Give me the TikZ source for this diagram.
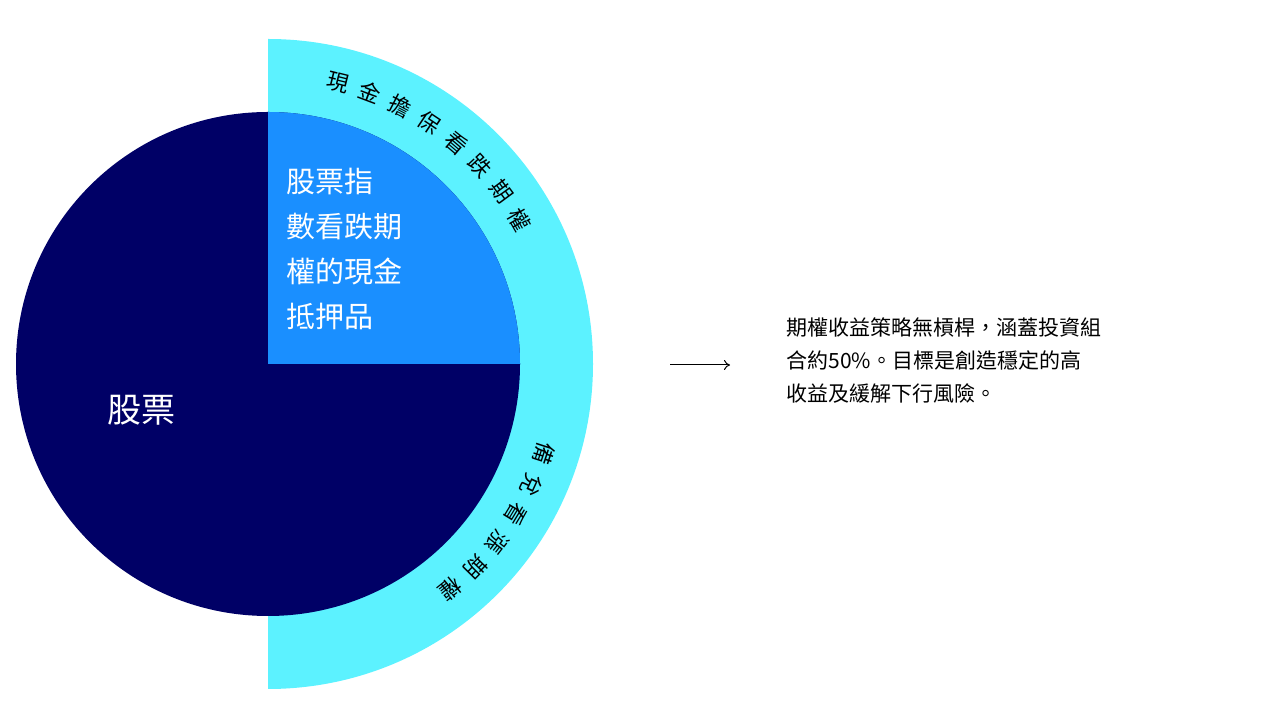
\documentclass[tikz,border=0pt]{standalone}
\usepackage{fontspec}
\setmainfont{Noto Sans CJK TC}
\usetikzlibrary{arrows.meta,calc}
\definecolor{navy}{HTML}{000066}
\definecolor{midblue}{HTML}{1A8FFF}
\definecolor{ringcyan}{HTML}{5CF2FF}
\begin{document}
\begin{tikzpicture}[x=1pt,y=1pt]
	\useasboundingbox (0,0) rectangle (1280,720);
	% Outer ring (right half)
	\fill[ringcyan] (268,356) ++(90:325) arc (90:-90:325) -- cycle;
	% Stock circle
	\fill[navy] (268,356) circle (252);
	% Quarter for index put collateral
	\fill[midblue] (268,356) -- ++(90:252) arc (90:0:252) -- cycle;
	
	% Labels
	\node[white, font=\fontsize{34}{40}\selectfont] (stock) at (141,310) {股票};
	\node[white, anchor=north west, align=left, font=\fontsize{29}{45}\selectfont] (collateral) at (283,555) {股票指\\數看跌期\\權的現金\\抵押品};
	
	% Curved ring labels
	\foreach \ch [count=\i] in {現,金,擔,保,看,跌,期,權}
		\node[font=\fontsize{22}{22}\selectfont, rotate={76-(\i-1)*6.6-90}] at ($(268,356)+({76-(\i-1)*6.6}:290)$) {\ch};
	\foreach \ch [count=\i] in {備,兌,看,漲,期,權}
		\node[font=\fontsize{22}{22}\selectfont, rotate={-18-(\i-1)*6.6-90}] at ($(268,356)+({-18-(\i-1)*6.6}:290)$) {\ch};
	
	% Arrow and description
	\coordinate (arrowstart) at (670,355);
	\coordinate (arrowend) at (730,355);
	\draw[-{To[length=6pt,width=10pt]}, line width=1pt] (arrowstart) -- (arrowend);
	\node[anchor=north west, align=left, font=\fontsize{21}{33}\selectfont] (summary) at (783,406) {期權收益策略無槓桿，涵蓋投資組\\合約50\%。目標是創造穩定的高\\收益及緩解下行風險。};
\end{tikzpicture}
\end{document}
